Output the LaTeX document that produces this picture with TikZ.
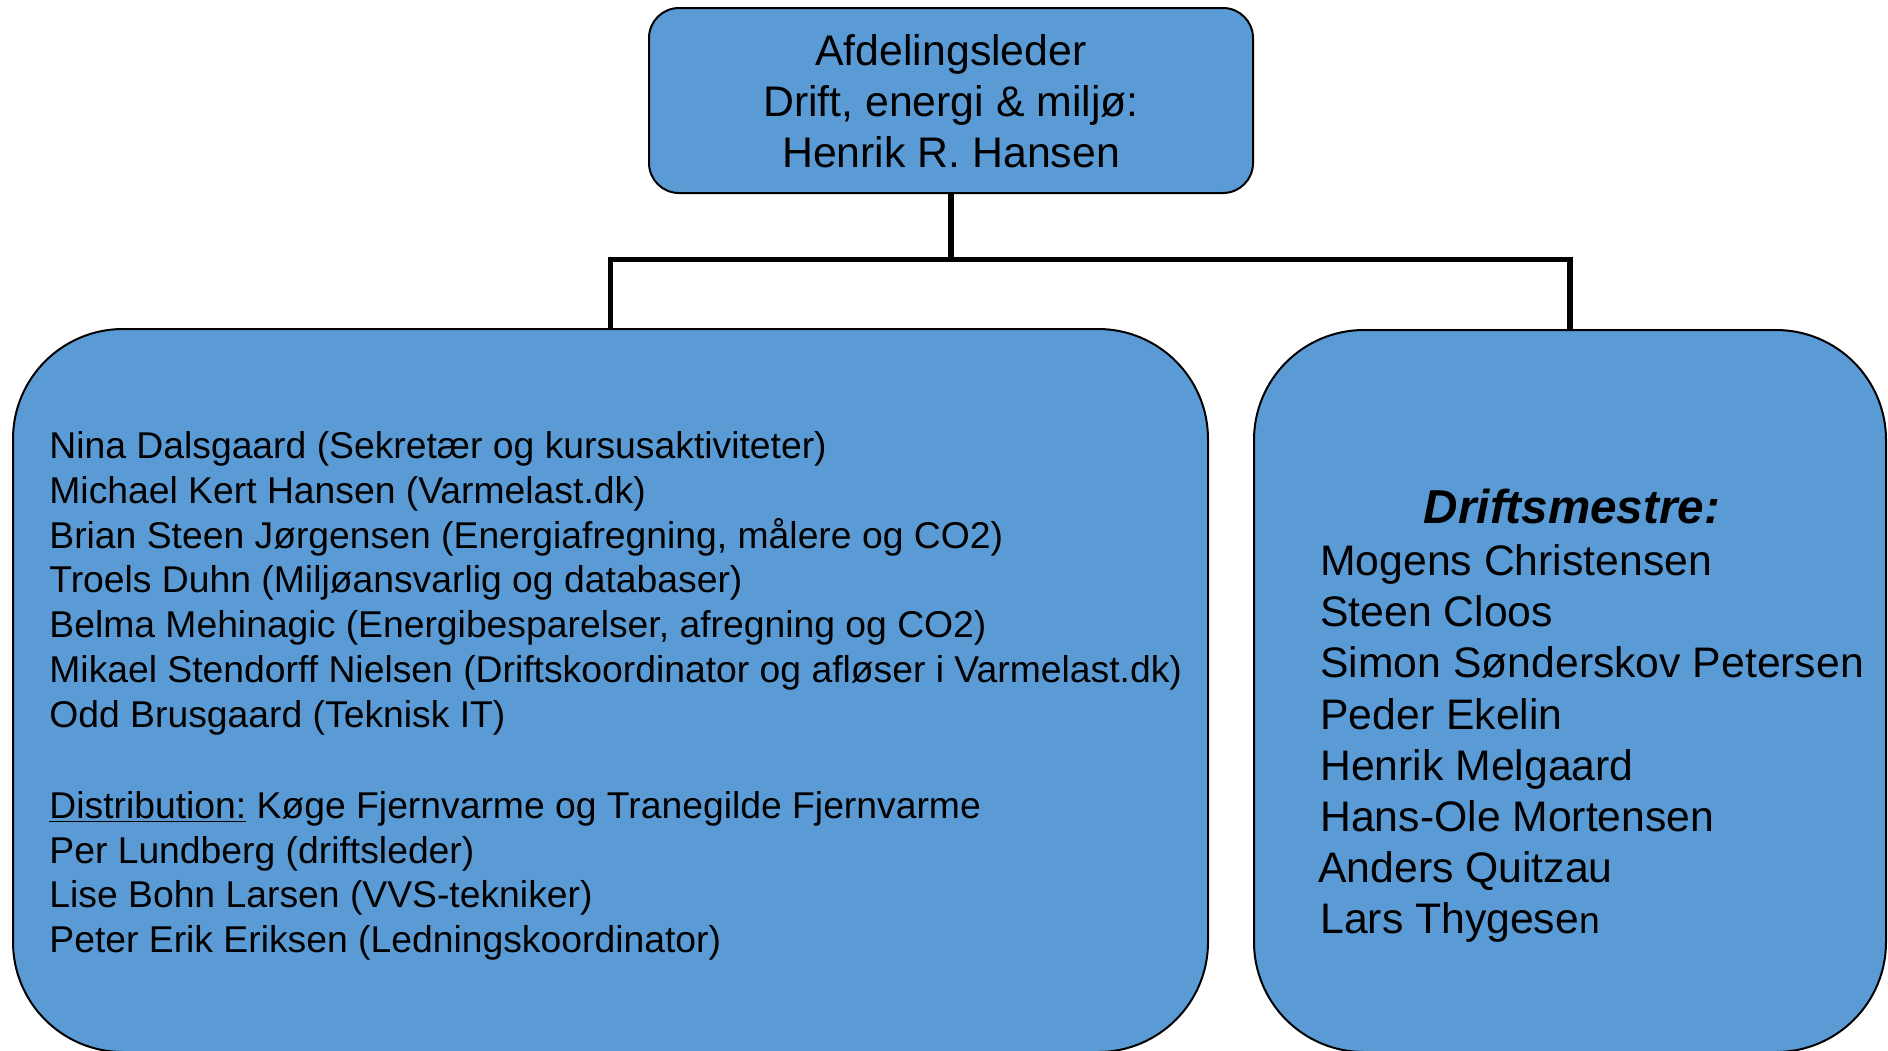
\documentclass[tikz,border=0pt]{standalone}
\usepackage{fontspec}
\setmainfont{Liberation Sans}
\definecolor{boxblue}{RGB}{91,155,213}
\begin{document}
\begin{tikzpicture}[x=0.5pt,y=-0.5pt,
  box/.style={draw=black,line width=1pt,fill=boxblue,inner sep=0pt},
  conn/.style={draw=black,line width=2.6pt},
  bigtxt/.style={font=\fontsize{21.4pt}{25.6pt}\selectfont,inner sep=0pt},
  smalltxt/.style={font=\fontsize{18.65pt}{22.4pt}\selectfont,inner sep=0pt,anchor=base west},
  nametxt/.style={font=\fontsize{21.35pt}{25.6pt}\selectfont,inner sep=0pt,anchor=base west}]
\useasboundingbox (0,0) rectangle (1888,1050);
\fill[white] (0,0) rectangle (1888,1050);
% boxes
\node[box,rounded corners=15pt,minimum width=302pt,minimum height=92.5pt] (top) at (951,100.5) {};
\node[box,rounded corners=55pt,minimum width=597.5pt,minimum height=361.5pt] (left) at (610.5,690.5) {};
\node[box,rounded corners=55pt,minimum width=316pt,minimum height=361pt] (right) at (1570,691) {};
% connectors
\coordinate (j) at (951,259.5);
\draw[conn] (top.south) -- (j);
\draw[conn] (j) -| (left.north);
\draw[conn] (j) -| (right.north);
% top text
\node[bigtxt,anchor=base] (t1) at (951,65) {Afdelingsleder};
\node[bigtxt,anchor=base] (t2) at (951,116) {Drift, energi \& miljø:};
\node[bigtxt,anchor=base] (t3) at (951,167) {Henrik R. Hansen};
% left text
\node[smalltxt] (l1) at (49,458) {Nina Dalsgaard (Sekretær og kursusaktiviteter)};
\node[smalltxt] (l2) at (49,503) {Michael Kert Hansen (Varmelast.dk)};
\node[smalltxt] (l3) at (49,548) {Brian Steen Jørgensen (Energiafregning, målere og CO2)};
\node[smalltxt] (l4) at (49,592) {Troels Duhn (Miljøansvarlig og databaser)};
\node[smalltxt] (l5) at (49,637) {Belma Mehinagic (Energibesparelser, afregning og CO2)};
\node[smalltxt] (l6) at (49,682) {Mikael Stendorff Nielsen (Driftskoordinator og afløser i Varmelast.dk)};
\node[smalltxt] (l7) at (49,727) {Odd Brusgaard (Teknisk IT)};
\node[smalltxt] (l8) at (49,818) {\underline{Distribution:} Køge Fjernvarme og Tranegilde Fjernvarme};
\node[smalltxt] (l9) at (49,863) {Per Lundberg (driftsleder)};
\node[smalltxt] (l10) at (49,907) {Lise Bohn Larsen (VVS-tekniker)};
\node[smalltxt] (l11) at (49,952) {Peter Erik Eriksen (Ledningskoordinator)};
% right text
\node[bigtxt,anchor=base,font=\fontsize{23.8pt}{26pt}\selectfont\bfseries\itshape] (hdr) at (1572,523) {Driftsmestre:};
\node[nametxt] (r1) at (1320,575) {Mogens Christensen};
\node[nametxt] (r2) at (1320,626) {Steen Cloos};
\node[nametxt] (r3) at (1320,677) {Simon Sønderskov Petersen};
\node[nametxt] (r4) at (1320,729) {Peder Ekelin};
\node[nametxt] (r5) at (1320,780) {Henrik Melgaard};
\node[nametxt] (r6) at (1320,831) {Hans-Ole Mortensen};
\node[nametxt] (r7) at (1318,882) {Anders Quitzau};
\node[nametxt] (r8) at (1320,933) {Lars Thygese{\fontsize{18.65pt}{22pt}\selectfont n}};
\end{tikzpicture}
\end{document}
